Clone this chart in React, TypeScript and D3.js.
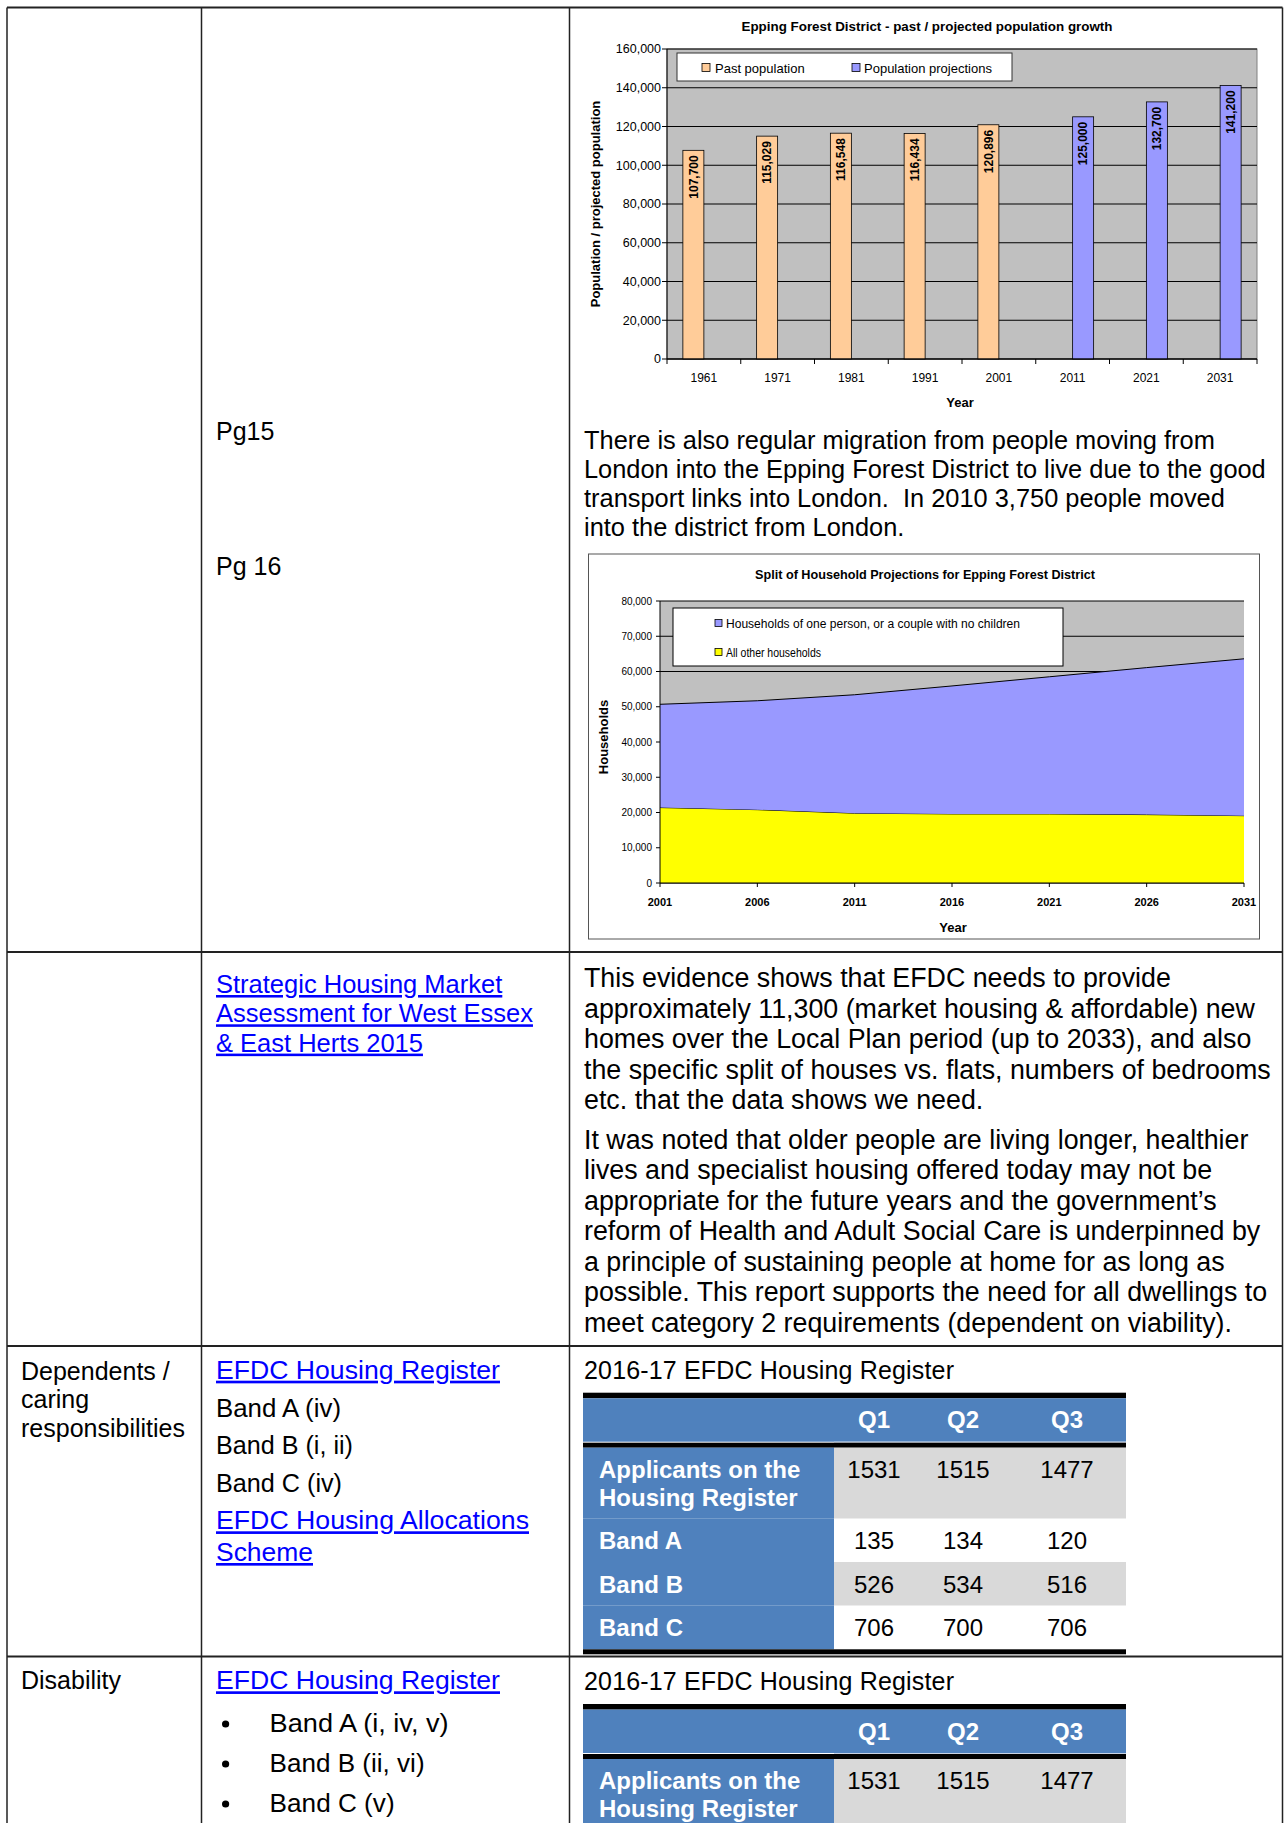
import React from 'react';
import * as d3 from 'd3';

// population bar chart
const popYears = ['1961', '1971', '1981', '1991', '2001', '2011', '2021', '2031'];
const popValues = [107700, 115029, 116548, 116434, 120896, 125000, 132700, 141200];
const popSeries = ['past', 'past', 'past', 'past', 'past', 'proj', 'proj', 'proj'];
const popTicks = [0, 20000, 40000, 60000, 80000, 100000, 120000, 140000, 160000];
const popLegend = ['Past population', 'Population projections'];

// household area chart
const hhYears = [2001, 2006, 2011, 2016, 2021, 2026, 2031];
const hhOther = [21400, 20800, 19800, 19600, 19600, 19400, 19100];
const hhSingle = [29300, 30900, 33600, 36300, 38900, 41700, 44500];
const hhTicks = [0, 10000, 20000, 30000, 40000, 50000, 60000, 70000, 80000];
const hhLegend = ['Households of one person, or a couple with no children', 'All other households'];

// housing register table
const quarters = ['Q1', 'Q2', 'Q3'];
const regLabels = [['Applicants on the', 'Housing Register'], ['Band A'], ['Band B'], ['Band C']];
const regValues = [
  [1531, 1515, 1477],
  [135, 134, 120],
  [526, 534, 516],
  [706, 700, 706],
];

const migrationText = [
  'There is also regular migration from people moving from',
  'London into the Epping Forest District to live due to the good',
  'transport links into London.  In 2010 3,750 people moved',
  'into the district from London.',
];
const evidenceText = [
  'This evidence shows that EFDC needs to provide',
  'approximately 11,300 (market housing & affordable) new',
  'homes over the Local Plan period (up to 2033), and also',
  'the specific split of houses vs. flats, numbers of bedrooms',
  'etc. that the data shows we need.',
];
const olderText = [
  'It was noted that older people are living longer, healthier',
  'lives and specialist housing offered today may not be',
  'appropriate for the future years and the government\u2019s',
  'reform of Health and Adult Social Care is underpinned by',
  'a principle of sustaining people at home for as long as',
  'possible. This report supports the need for all dwellings to',
  'meet category 2 requirements (dependent on viability).',
];
const shmaLink = ['Strategic Housing Market', 'Assessment for West Essex', '& East Herts 2015'];

const FONT = "'Liberation Sans', Arial, sans-serif";
const fmt = d3.format(',');
const LINK = '#0000FF';

function PopChart() {
  const left = 667, right = 1257, top = 49, bottom = 359;
  const x0 = d3.scaleBand().domain(popYears).range([left, right]);
  const x1 = d3.scaleBand().domain(['past', 'proj']).range([0, x0.bandwidth()]).paddingInner(0).paddingOuter(0.756);
  const y = d3.scaleLinear().domain([0, 160000]).range([bottom, top]);
  const colour = (s: string) => (s === 'past' ? '#FFCC99' : '#9999FF');
  const bounds = popYears.map(d => x0(d)!).concat([right]);

  return (
    <g fontFamily={FONT}>
      <text x={927} y={30.5} textAnchor="middle" fontSize={13} fontWeight="bold" textLength={371} lengthAdjust="spacingAndGlyphs">
        Epping Forest District - past / projected population growth
      </text>
      <rect x={left} y={top} width={right - left} height={bottom - top} fill="#C0C0C0" stroke="#808080" />
      {popTicks.map(t => (
        <g key={t}>
          <line x1={left - 5} x2={right} y1={y(t)} y2={y(t)} stroke="#000" />
          <text x={661} y={y(t)} dy="0.35em" textAnchor="end" fontSize={12.5}>{fmt(t)}</text>
        </g>
      ))}
      {popYears.map((d, i) => {
        const bx = x0(d)! + x1(popSeries[i])!;
        const bw = x1.bandwidth();
        return (
          <g key={d}>
            <rect x={bx} y={y(popValues[i])} width={bw} height={bottom - y(popValues[i])}
              fill={colour(popSeries[i])} stroke="#000" strokeWidth={0.8} />
            <text transform={`translate(${bx + bw / 2},${y(popValues[i]) + 5}) rotate(-90)`}
              textAnchor="end" dy="0.35em" fontSize={12} fontWeight="bold">{fmt(popValues[i])}</text>
            <text x={x0(d)! + x0.bandwidth() / 2} y={382} textAnchor="middle" fontSize={12}>{d}</text>
          </g>
        );
      })}
      <line x1={left} x2={left} y1={top} y2={bottom} stroke="#000" />
      <line x1={left} x2={right} y1={bottom} y2={bottom} stroke="#000" />
      {bounds.map((b, i) => (
        <line key={i} x1={b} x2={b} y1={bottom} y2={bottom + 5} stroke="#000" />
      ))}
      <text x={960} y={407} textAnchor="middle" fontSize={13} fontWeight="bold">Year</text>
      <text transform="translate(595,204) rotate(-90)" textAnchor="middle" dy="0.35em" fontSize={13} fontWeight="bold">
        Population / projected population
      </text>
      <rect x={677} y={53} width={335} height={28} fill="#fff" stroke="#333" />
      {popLegend.map((l, i) => (
        <g key={l}>
          <rect x={[702, 852][i]} y={63.5} width={8} height={8} fill={colour(i ? 'proj' : 'past')} stroke="#000" strokeWidth={0.8} />
          <text x={[715, 864][i]} y={72.5} fontSize={13}>{l}</text>
        </g>
      ))}
    </g>
  );
}

function HouseChart() {
  const left = 660, right = 1244, top = 601, bottom = 883;
  const x = d3.scaleLinear().domain([2001, 2031]).range([left, right]);
  const y = d3.scaleLinear().domain([0, 80000]).range([bottom, top]);
  const rows = hhYears.map((yr, i) => ({ year: yr, other: hhOther[i], single: hhSingle[i] }));
  const stack = d3.stack<any>().keys(['other', 'single'])(rows);
  const area = d3.area<any>().x(d => x(d.data.year)).y0(d => y(d[0])).y1(d => y(d[1]));
  const topLine = d3.line<any>().x(d => x(d.data.year)).y(d => y(d[1]));
  const fills = ['#FFFF00', '#9999FF'];

  return (
    <g fontFamily={FONT}>
      <rect x={588.5} y={554} width={671} height={385} fill="#fff" stroke="#555" />
      <text x={925} y={579} textAnchor="middle" fontSize={12.5} fontWeight="bold" textLength={340} lengthAdjust="spacingAndGlyphs">
        Split of Household Projections for Epping Forest District
      </text>
      <rect x={left} y={top} width={right - left} height={bottom - top} fill="#C0C0C0" />
      {hhTicks.map(t => (
        <g key={t}>
          <line x1={left - 4} x2={right} y1={y(t)} y2={y(t)} stroke="#000" />
          <text x={652} y={y(t)} dy="0.35em" textAnchor="end" fontSize={10}>{fmt(t)}</text>
        </g>
      ))}
      {stack.map((s, i) => (
        <g key={s.key}>
          <path d={area(s)!} fill={fills[i]} />
          <path d={topLine(s)!} fill="none" stroke="#000" strokeWidth={1} />
        </g>
      ))}
      <line x1={left} x2={left} y1={top} y2={bottom} stroke="#000" />
      <line x1={left} x2={right} y1={bottom} y2={bottom} stroke="#000" />
      {hhYears.map(yr => (
        <g key={yr}>
          <line x1={x(yr)} x2={x(yr)} y1={bottom} y2={bottom + 4} stroke="#000" />
          <text x={x(yr)} y={906} textAnchor="middle" fontSize={11} fontWeight="bold">{yr}</text>
        </g>
      ))}
      <text x={953} y={932} textAnchor="middle" fontSize={13} fontWeight="bold">Year</text>
      <text transform="translate(603,737) rotate(-90)" textAnchor="middle" dy="0.35em" fontSize={13} fontWeight="bold">
        Households
      </text>
      <rect x={673} y={608} width={390} height={58} fill="#fff" stroke="#000" />
      {hhLegend.map((l, i) => (
        <g key={l}>
          <rect x={715} y={[619.5, 648.5][i]} width={7} height={7} fill={fills[1 - i]} stroke="#000" strokeWidth={0.8} />
          <text x={726} y={[627.5, 656.5][i]} fontSize={12} textLength={i ? 95 : 294} lengthAdjust="spacingAndGlyphs">{l}</text>
        </g>
      ))}
    </g>
  );
}

function RegisterTable({ y0 }: { y0: number }) {
  const tl = 583, tr = 1126, lab = 834;
  const qx = d3.scalePoint().domain(quarters).range([874, 1067]);
  const qPos = (q: string, i: number) => [874, 963, 1067][i] ?? qx(q);
  const rowH = [71, 43.3, 43.7, 43.6];
  const rowTop = rowH.map((_, i) => y0 + 55 + d3.sum(rowH.slice(0, i)));
  return (
    <g fontFamily={FONT} fontSize={24}>
      <text x={584} y={y0 - 14} fontSize={25} textLength={370} lengthAdjust="spacing">2016-17 EFDC Housing Register</text>
      <rect x={tl} y={y0} width={tr - tl} height={5.6} fill="#000" />
      <rect x={tl} y={y0 + 5.6} width={tr - tl} height={43.4} fill="#4F81BD" />
      {quarters.map((q, i) => (
        <text key={q} x={qPos(q, i)} y={y0 + 35.5} textAnchor="middle" fill="#fff" fontWeight="bold">{q}</text>
      ))}
      <rect x={lab} y={y0 + 49} width={tr - lab} height={1} fill="#c8d3e3" />
      <rect x={tl} y={y0 + 50} width={tr - tl} height={5} fill="#000" />
      {regLabels.map((lbl, r) => {
        const ty = rowTop[r];
        if (ty > 1823) return null;
        return (
          <g key={r}>
            <rect x={tl} y={ty} width={lab - tl} height={rowH[r]} fill="#4F81BD" />
            <rect x={lab} y={ty} width={tr - lab} height={rowH[r]} fill={r % 2 === 0 ? '#D9D9D9' : '#fff'} />
            {lbl.map((t, k) => (
              <text key={k} x={599} y={ty + (r === 0 ? 30 : 30.5) + k * 28.3} fill="#fff" fontWeight="bold">{t}</text>
            ))}
            {regValues[r].map((v, i) => (
              <text key={i} x={qPos(quarters[i], i)} y={ty + (r === 0 ? 30 : 30.5)} textAnchor="middle" fill="#000">{v}</text>
            ))}
          </g>
        );
      })}
      <rect x={tl} y={rowTop[3] + rowH[3]} width={tr - tl} height={5} fill="#000" />
    </g>
  );
}

export default function App() {
  const lineStroke = '#222';
  const linkProps = { fill: LINK, textDecoration: 'underline', fontSize: 26.5, lengthAdjust: 'spacingAndGlyphs' };
  return (
    <svg width={1288} height={1823} style={{ position: 'absolute', left: 0, top: 0, background: '#fff' }}>
      <rect width={1288} height={1823} fill="#fff" />
      {/* document table grid */}
      {[7, 201.5, 569.5, 1282.5].map(xv => (
        <line key={xv} x1={xv} x2={xv} y1={7.5} y2={1823} stroke={lineStroke} strokeWidth={1.5} />
      ))}
      {[7.5, 952, 1346, 1656.5].map(yv => (
        <line key={yv} x1={7} x2={1282.5} y1={yv} y2={yv} stroke={lineStroke} strokeWidth={2} />
      ))}

      <PopChart />
      <HouseChart />

      <g fontFamily={FONT} fontSize={25} fill="#000">
        <text x={216} y={439.5}>Pg15</text>
        <text x={216} y={574.5}>Pg 16</text>
        {migrationText.map((t, i) => (
          <text key={i} x={584} y={449 + i * 29.1} fontSize={25.4} style={{ whiteSpace: 'pre' }}>{t}</text>
        ))}
        {shmaLink.map((t, i) => (
          <text key={t} x={216} y={993 + i * 29.3} fontSize={25.5} fill={LINK} textDecoration="underline">{t}</text>
        ))}
        {evidenceText.map((t, i) => (
          <text key={i} x={584} y={987.3 + i * 30.45} fontSize={26.8}>{t}</text>
        ))}
        {olderText.map((t, i) => (
          <text key={i} x={584} y={1149 + i * 30.45} fontSize={26.8}>{t}</text>
        ))}

        {['Dependents /', 'caring', 'responsibilities'].map((t, i) => (
          <text key={t} x={21} y={1379.5 + i * 28.6}>{t}</text>
        ))}
        <text x={216} y={1378.7} {...linkProps} textLength={284}>EFDC Housing Register</text>
        <text x={216} y={1416.7} fontSize={25.4} textLength={125} lengthAdjust="spacingAndGlyphs">Band A (iv)</text>
        <text x={216} y={1454.3} fontSize={25.4} textLength={137} lengthAdjust="spacingAndGlyphs">Band B (i, ii)</text>
        <text x={216} y={1491.7} fontSize={25.4} textLength={126} lengthAdjust="spacingAndGlyphs">Band C (iv)</text>
        <text x={216} y={1529.3} {...linkProps} textLength={313}>EFDC Housing Allocations</text>
        <text x={216} y={1561} {...linkProps} textLength={97}>Scheme</text>

        <text x={21} y={1689.3}>Disability</text>
        <text x={216} y={1689.3} {...linkProps} textLength={284}>EFDC Housing Register</text>
        {['Band A (i, iv, v)', 'Band B (ii, vi)', 'Band C (v)'].map((t, i) => (
          <g key={t}>
            <circle cx={225.6} cy={1724 + i * 40} r={3.6} fill="#000" />
            <text x={269.6} y={1732 + i * 40} fontSize={26} textLength={[179, 155, 125][i]} lengthAdjust="spacingAndGlyphs">{t}</text>
          </g>
        ))}
      </g>

      <RegisterTable y0={1392.7} />
      <RegisterTable y0={1704} />
    </svg>
  );
}
